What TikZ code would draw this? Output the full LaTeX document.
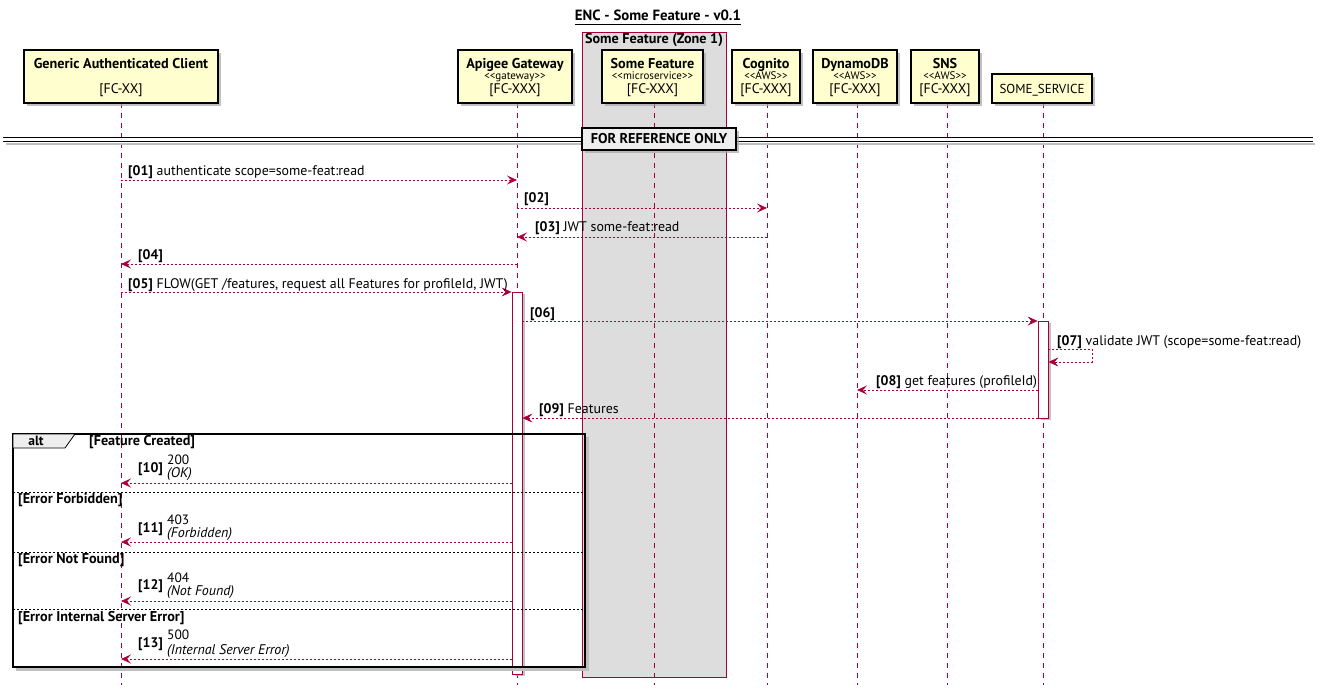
\documentclass[tikz,border=0pt]{standalone}
\usepackage{fontspec}
\setmainfont{PT Sans}
\usetikzlibrary{arrows.meta,shadows,calc}
\definecolor{crim}{HTML}{A80036}
\definecolor{pfill}{HTML}{FEFECE}
\definecolor{zfill}{HTML}{DDDDDD}
\definecolor{gfill}{HTML}{EEEEEE}
\begin{document}
\begin{tikzpicture}[x=1pt,y=-1pt,
  part/.style={draw=black,line width=1.1pt,fill=pfill,inner sep=0pt,
    drop shadow={shadow xshift=3pt,shadow yshift=-3pt,fill=black!35,opacity=.7}},
  life/.style={crim,line width=0.8pt,dash pattern=on 5pt off 5pt},
  msg/.style={crim,line width=0.7pt,dash pattern=on 2pt off 2pt,-{Stealth[length=10pt,width=9pt,inset=4pt]}},
  act/.style={draw=crim,fill=white,line width=0.8pt,inner sep=0pt,
    drop shadow={shadow xshift=3pt,shadow yshift=-2pt,fill=black!35,opacity=.7}},
  nm/.style={font=\bfseries\fontsize{14.2}{16}\selectfont,anchor=base,inner sep=0pt},
  st/.style={font=\fontsize{11}{12}\selectfont,anchor=base,inner sep=0pt},
  fc/.style={font=\fontsize{13.9}{16}\selectfont,anchor=base,inner sep=0pt},
  lbl/.style={font=\fontsize{13.9}{16}\selectfont,anchor=base west,inner sep=0pt},
  code/.style={font=\fontsize{13.5}{15}\selectfont,anchor=base west,inner sep=0pt},
  codei/.style={font=\itshape\fontsize{14}{16}\selectfont,anchor=base west,inner sep=0pt},
  grp/.style={font=\bfseries\fontsize{14.2}{16}\selectfont,anchor=base west,inner sep=0pt},
  sep/.style={black,line width=0.6pt,dash pattern=on 2pt off 2pt},
]
\useasboundingbox (0,0) rectangle (1325,695);

% title
\node[font=\bfseries\fontsize{14.8}{17}\selectfont,anchor=base,inner sep=0pt] (title) at (658,21) {ENC - Some Feature - v0.1};
\draw[line width=0.8pt] (title.south west|-0,24) -- (title.south east|-0,24);

% zone
\node[draw=crim,fill=zfill,line width=0.8pt,minimum width=144pt,minimum height=645pt,inner sep=0pt] (zone) at (654,354.5) {};
\node[font=\bfseries\fontsize{14.2}{16}\selectfont,anchor=base,inner sep=0pt] (zonelbl) at (654,44) {Some Feature (Zone 1)};

% lifeline anchors
\coordinate (Lcl) at (121,103);
\coordinate (Lgw) at (517,103);
\coordinate (Lsf) at (654,103);
\coordinate (Lcg) at (767,103);
\coordinate (Ldb) at (857,103);
\coordinate (Lsn) at (947,103);
\coordinate (Lsv) at (1043,103);
\coordinate (bot) at (0,685);
\foreach \l in {Lcl,Lgw,Lsf,Lcg,Ldb,Lsn,Lsv} \draw[life] (\l) -- (\l|-bot);

% divider
\draw[black!25,line width=2pt] (6,144.5) -- (1315,144.5);
\draw[line width=1pt] (3,138) -- (1313,138);
\draw[line width=1pt] (3,141.5) -- (1313,141.5);
\node[draw=black,line width=1.3pt,fill=gfill,minimum width=154pt,minimum height=22pt,inner sep=0pt,
  font=\bfseries\fontsize{14.2}{16}\selectfont,
  drop shadow={shadow xshift=3pt,shadow yshift=-3pt,fill=black!35,opacity=.7}] (ref) at (659,139) {FOR REFERENCE ONLY};

% participants
\node[part,minimum width=194pt,minimum height=53pt] (client) at (121,76.5) {};
\node[nm] (clientn) at (121,69) {Generic Authenticated Client};
\node[fc] (clientf) at (121,94) {[FC-XX]};

\node[part,minimum width=114pt,minimum height=53pt] (gw) at (515,76.5) {};
\node[nm] (gwn) at (515,69) {Apigee Gateway};
\node[st] (gws) at (515,80) {<{}<gateway>{}>};
\node[fc] (gwf) at (515,94) {[FC-XXX]};

\node[part,minimum width=101pt,minimum height=53pt] (sf) at (652.5,76.5) {};
\node[nm] (sfn) at (652.5,69) {Some Feature};
\node[st] (sfs) at (652.5,80) {<{}<microservice>{}>};
\node[fc] (sff) at (652.5,94) {[FC-XXX]};

\node[part,minimum width=68pt,minimum height=53pt] (cg) at (766,76.5) {};
\node[nm] (cgn) at (766,69) {Cognito};
\node[st] (cgs) at (766,80) {<{}<AWS>{}>};
\node[fc] (cgf) at (766,94) {[FC-XXX]};

\node[part,minimum width=84pt,minimum height=53pt] (db) at (855,76.5) {};
\node[nm] (dbn) at (855,69) {DynamoDB};
\node[st] (dbs) at (855,80) {<{}<AWS>{}>};
\node[fc] (dbf) at (855,94) {[FC-XXX]};

\node[part,minimum width=68pt,minimum height=53pt] (sn) at (945,76.5) {};
\node[nm] (snn) at (945,69) {SNS};
\node[st] (sns) at (945,80) {<{}<AWS>{}>};
\node[fc] (snf) at (945,94) {[FC-XXX]};

\node[part,minimum width=100pt,minimum height=29pt] (sv) at (1042,88.5) {};
\node[fc,font=\fontsize{13}{15}\selectfont] (svn) at (1042,94) {SOME\_SERVICE};

% activations
\node[act,minimum width=10pt,minimum height=382pt] (act1) at (517,483) {};
\node[act,minimum width=10pt,minimum height=97pt] (act2) at (1043,369.5) {};

% rows
\coordinate (r1) at (0,180);
\coordinate (r2) at (0,208);
\coordinate (r3) at (0,237);
\coordinate (r4) at (0,264);
\coordinate (r5) at (0,292);
\coordinate (r6) at (0,321);
\coordinate (r7a) at (0,349);
\coordinate (r7b) at (0,362);
\coordinate (r8) at (0,390);
\coordinate (r9) at (0,418);
\coordinate (r10) at (0,483);
\coordinate (r11) at (0,542);
\coordinate (r12) at (0,601);
\coordinate (r13) at (0,659);
\coordinate (loop7) at (1092,0);

\draw[msg] (Lcl|-r1) -- (Lgw|-r1);
\node[lbl] (t1) at (128,176) {\textbf{[01]} authenticate scope=some-feat:read};
\draw[msg] (Lgw|-r2) -- (Lcg|-r2);
\node[lbl] (t2) at (524,203) {\textbf{[02]}};
\draw[msg] (Lcg|-r3) -- (Lgw|-r3);
\node[lbl] (t3) at (535,232) {\textbf{[03]} JWT some-feat:read};
\draw[msg] (Lgw|-r4) -- (Lcl|-r4);
\node[lbl] (t4) at (138,259) {\textbf{[04]}};
\draw[msg] (Lcl|-r5) -- (act1.west|-r5);
\node[lbl] (t5) at (128,288) {\textbf{[05]} FLOW(GET /features, request all Features for profileId, JWT)};
\draw[msg] (act1.east|-r6) -- (act2.west|-r6);
\node[lbl] (t6) at (530,317) {\textbf{[06]}};
\draw[msg] (act2.east|-r7a) -- (loop7|-r7a) -- (loop7|-r7b) -- (act2.east|-r7b);
\node[lbl] (t7) at (1057,345) {\textbf{[07]} validate JWT (scope=some-feat:read)};
\draw[msg] (act2.west|-r8) -- (Ldb|-r8);
\node[lbl] (t8) at (876,385) {\textbf{[08]} get features (profileId)};
\draw[msg] (act2.west|-r9) -- (act1.east|-r9);
\node[lbl] (t9) at (539,413) {\textbf{[09]} Features};

% alt
\draw[black!25,line width=2.5pt] (587.5,437) -- (587.5,669.5) -- (16,669.5);
\draw[line width=1.5pt] (13,434) rectangle (585,667);
\draw[line width=0.8pt,fill=gfill] (13,434) -- (75,434) -- (65,448) -- (13,448) -- cycle;
\node[font=\bfseries\fontsize{13.5}{15}\selectfont,anchor=base,inner sep=0pt] (altl) at (36,445) {alt};
\node[grp] (g1) at (89,445) {[Feature Created]};
\draw[sep] (13,492) -- (585,492);
\node[grp] (g2) at (18,503) {[Error Forbidden]};
\draw[sep] (13,552) -- (585,552);
\node[grp] (g3) at (18,563) {[Error Not Found]};
\draw[sep] (13,609) -- (585,609);
\node[grp] (g4) at (18,621) {[Error Internal Server Error]};

\draw[msg] (act1.west|-r10) -- (Lcl|-r10);
\node[lbl] (n10) at (138,472) {\textbf{[10]}};
\node[code] (c10) at (167,464) {200};
\node[codei] (i10) at (167,477) {(OK)};
\draw[msg] (act1.west|-r11) -- (Lcl|-r11);
\node[lbl] (n11) at (138,532) {\textbf{[11]}};
\node[code] (c11) at (167,524) {403};
\node[codei] (i11) at (167,537) {(Forbidden)};
\draw[msg] (act1.west|-r12) -- (Lcl|-r12);
\node[lbl] (n12) at (138,589) {\textbf{[12]}};
\node[code] (c12) at (167,582) {404};
\node[codei] (i12) at (167,595) {(Not Found)};
\draw[msg] (act1.west|-r13) -- (Lcl|-r13);
\node[lbl] (n13) at (138,647) {\textbf{[13]}};
\node[code] (c13) at (167,639) {500};
\node[codei] (i13) at (167,654) {(Internal Server Error)};
\end{tikzpicture}
\end{document}
